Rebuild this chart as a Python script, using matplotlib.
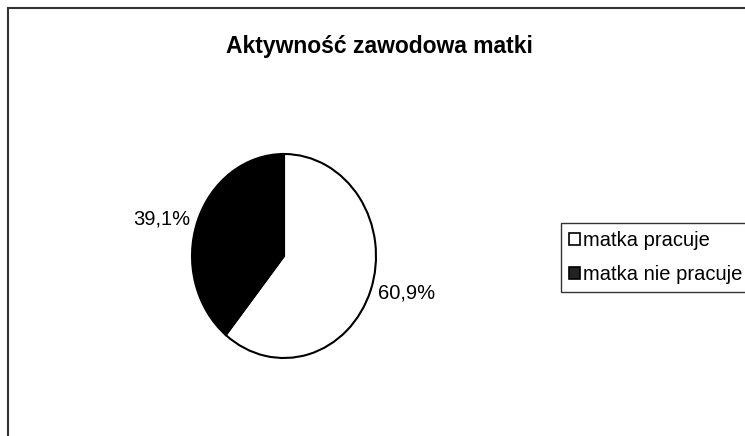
import matplotlib
matplotlib.use("Agg")
import matplotlib.pyplot as plt
from matplotlib.lines import Line2D
from matplotlib.patches import Patch

plt.rcParams['font.family'] = ['Liberation Sans', 'DejaVu Sans']

title = "Aktywność zawodowa matki"
categories = ["matka pracuje", "matka nie pracuje"]
values = [60.9, 39.1]
colors = ["white", "black"]
legend_colors = ["white", "#222222"]

W, H = 745, 436
fig = plt.figure(figsize=(W / 100, H / 100), dpi=100)

# pie axes: x -1..1 -> 192..375 px, y -1..1 -> 358..154 px
cx, cy, rx, ry = 284, 256, 92, 102
left = (cx - rx) / W
bottom = 1 - (cy + ry) / H
ax = fig.add_axes([left, bottom, 2 * rx / W, 2 * ry / H])

pct_labels = [f"{v:.1f}%".replace(".", ",") for v in values]
wedges, texts = ax.pie(values, colors=colors, startangle=90, counterclock=False,
                       labels=pct_labels, labeldistance=1.08,
                       wedgeprops=dict(edgecolor="black", linewidth=1.5),
                       textprops=dict(fontsize=14.5))
ax.set_aspect('auto')
ax.set_xlim(-1, 1)
ax.set_ylim(-1, 1)
ax.axis('off')

fig.text(379 / W, 1 - 46 / H, title, ha='center', va='center',
         fontsize=16.5, fontweight='bold')

handles = [Patch(facecolor=c, edgecolor='black', linewidth=1.2) for c in legend_colors]
leg = fig.legend(handles, categories, loc='upper left',
                 bbox_to_anchor=(561 / W, 1 - 223 / H),
                 fontsize=14.5, frameon=True, fancybox=False,
                 handlelength=0.55, handleheight=0.55, handletextpad=0.12,
                 borderpad=0.4, labelspacing=0.75, borderaxespad=0)
leg.get_frame().set_edgecolor('black')
leg.get_frame().set_linewidth(1.0)

# outer chart frame (top and left edges visible)
fig.add_artist(Line2D([8 / W, 1], [1 - 8 / H, 1 - 8 / H], color='#333333', linewidth=1.5))
fig.add_artist(Line2D([8 / W, 8 / W], [0, 1 - 8 / H], color='#333333', linewidth=1.5))

fig.savefig("out.png", dpi=100)
